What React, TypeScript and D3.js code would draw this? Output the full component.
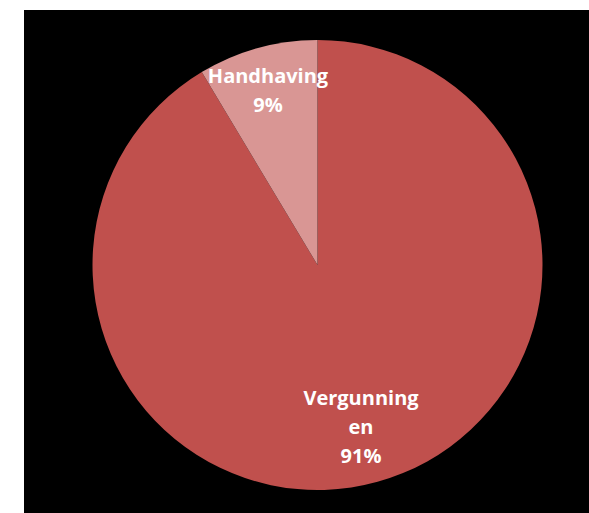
import React from "react";
import * as d3 from "d3";

const categories = ["Vergunningen", "Handhaving"];
const values = [91.4, 8.6];
const labelLines = [["Vergunning", "en", "91%"], ["Handhaving", "9%"]];
const colors = ["#C0504D", "#D99694"];

export default function App() {
  const W = 589, H = 513;
  const cx = 317.5, cy = 265, r = 225;
  const pieGen = d3.pie<number>().sort(null).startAngle(0).endAngle(2 * Math.PI);
  const arcs = pieGen(values);
  const arc = d3.arc<d3.PieArcDatum<number>>().innerRadius(0).outerRadius(r);
  const labelPos = [
    { x: 361, y: 405 },
    { x: 268, y: 83 },
  ];
  return (
    <svg width={W} height={H} style={{ position: "absolute", left: 0, top: 0 }}>
      <rect x={0} y={0} width={W} height={H} fill="#fff" />
      <rect x={24} y={10} width={W - 24} height={H - 10} fill="#000" />
      <g transform={`translate(${cx},${cy})`}>
        {arcs.map((a, i) => (
          <path key={categories[i]} d={arc(a) || ""} fill={colors[i]} />
        ))}
      </g>
      {labelLines.map((lines, i) => (
        <text
          key={i}
          x={labelPos[i].x}
          y={labelPos[i].y}
          textAnchor="middle"
          fill="#fff"
          fontFamily="'Open Sans', sans-serif"
          fontWeight="bold"
          fontSize={20}
        >
          {lines.map((l, j) => (
            <tspan key={j} x={labelPos[i].x} dy={j === 0 ? 0 : 29}>
              {l}
            </tspan>
          ))}
        </text>
      ))}
    </svg>
  );
}
